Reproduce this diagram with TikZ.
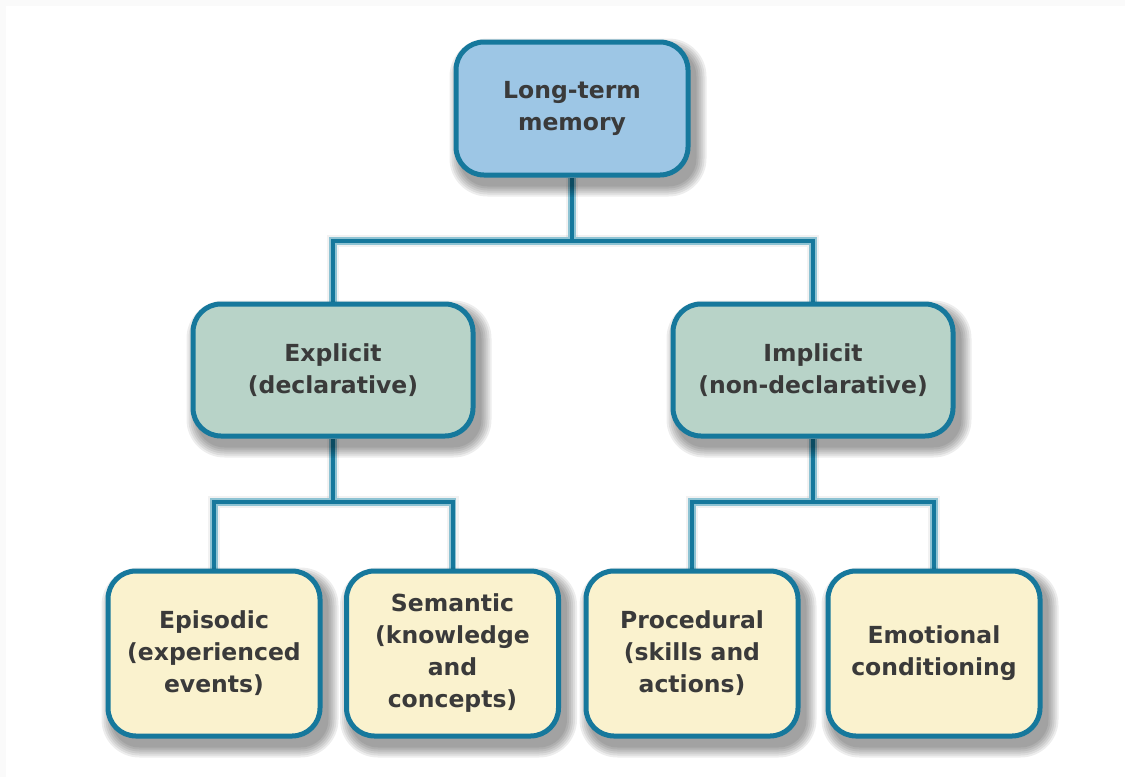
\documentclass[tikz,border=0pt]{standalone}
\usepackage{fontspec}
\setmainfont{DejaVu Sans}
\definecolor{bordc}{HTML}{16789C}
\definecolor{haloc}{HTML}{8EC3D3}
\definecolor{topfill}{HTML}{9DC6E5}
\definecolor{midfill}{HTML}{B8D3C8}
\definecolor{botfill}{HTML}{FAF2CE}
\definecolor{txtc}{HTML}{3A3A3A}
\definecolor{framec}{HTML}{FAFAFA}
\pgfdeclarelayer{back}
\pgfdeclarelayer{bg}
\pgfsetlayers{back,bg,main}
\tikzset{
  memnode/.style={draw=bordc, line width=5pt, rounded corners=28pt,
    align=center, text=txtc, inner sep=0pt,
    font=\fontsize{23.5}{32}\selectfont\bfseries},
  topbox/.style={memnode, fill=topfill, minimum width=232pt, minimum height=133pt},
  midbox/.style={memnode, fill=midfill, minimum width=280pt, minimum height=132pt},
  botbox/.style={memnode, fill=botfill, minimum width=212pt, minimum height=165pt},
  linkhalo/.style={draw=haloc, line width=7.5pt},
  linkcore/.style={draw=bordc, line width=4pt},
  linkshadow/.style={draw=black, opacity=0.05, line width=12pt},
  boxshadow/.style={fill=black, opacity=0.07},
}
\newcommand{\dropshadow}[1]{%
  \foreach \k in {0,2,4,6,8,10} {
    \fill[boxshadow, rounded corners=28pt+\k pt]
      ([shift={(6-\k,9+\k)}]#1.south west) rectangle ([shift={(6+\k,9-\k)}]#1.north east);
  }}
\begin{document}
\begin{tikzpicture}[x=1pt, y=-1pt]
\useasboundingbox (0,0) rectangle (1125,777);
\begin{pgfonlayer}{back}
\fill[framec] (0,0) rectangle (1125,777);
\fill[white] (6,6) rectangle (1125,777);
\end{pgfonlayer}

\node[topbox] (ltm) at (572,108.5) {Long-term\\memory};
\node[midbox] (expl) at (333,370) {Explicit\\(declarative)};
\node[midbox] (impl) at (813,370) {Implicit\\(non-declarative)};
\node[botbox] (epi) at (214,653.5) {Episodic\\(experienced\\events)};
\node[botbox] (sem) at (452.5,653.5) {Semantic\\(knowledge\\and\\concepts)};
\node[botbox] (proc) at (692,653.5) {Procedural\\(skills and\\actions)};
\node[botbox] (emo) at (934,653.5) {Emotional\\conditioning};

\coordinate (j1) at (ltm.south |- 0,241);
\coordinate (j2) at (expl.south |- 0,502);
\coordinate (j3) at (impl.south |- 0,502);

\begin{pgfonlayer}{bg}
\begin{scope}[shift={(6,10)}]
\draw[linkshadow] (ltm.south) -- (j1);
\draw[linkshadow] (expl.north) |- (j1) -| (impl.north);
\draw[linkshadow] (expl.south) -- (j2);
\draw[linkshadow] (epi.north) |- (j2) -| (sem.north);
\draw[linkshadow] (impl.south) -- (j3);
\draw[linkshadow] (proc.north) |- (j3) -| (emo.north);
\end{scope}
\foreach \st in {linkhalo, linkcore} {
  \draw[\st] (ltm.south) -- (j1);
  \draw[\st] (expl.north) |- (j1) -| (impl.north);
  \draw[\st] (expl.south) -- (j2);
  \draw[\st] (epi.north) |- (j2) -| (sem.north);
  \draw[\st] (impl.south) -- (j3);
  \draw[\st] (proc.north) |- (j3) -| (emo.north);
}
\dropshadow{ltm}
\dropshadow{expl}
\dropshadow{impl}
\dropshadow{epi}
\dropshadow{sem}
\dropshadow{proc}
\dropshadow{emo}
\end{pgfonlayer}
\end{tikzpicture}
\end{document}
